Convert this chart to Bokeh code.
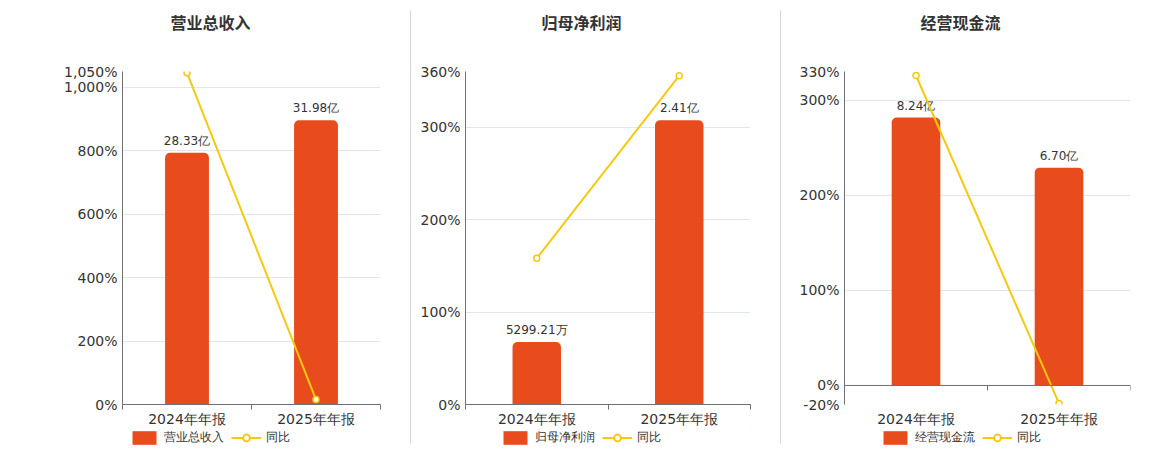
from bokeh.plotting import figure
from bokeh.models import (Range1d, FixedTicker, Legend, LegendItem, Span, Label,
                          ColumnDataSource)
from bokeh.layouts import row, column
from bokeh.embed import file_html
from bokeh.resources import INLINE
from bokeh.core.properties import value

categories = ["2024年年报", "2025年年报"]

rev_values = [28.33, 31.98]
rev_labels = ["28.33亿", "31.98亿"]
rev_yoy = [1046.0, 15.5]
rev_ticks = [0, 200, 400, 600, 800, 1000, 1050]
rev_tick_labels = ["0%", "200%", "400%", "600%", "800%", "1,000%", "1,050%"]

np_values = [0.529921, 2.41]
np_labels = ["5299.21万", "2.41亿"]
np_yoy = [158.0, 355.5]
np_ticks = [0, 100, 200, 300, 360]
np_tick_labels = ["0%", "100%", "200%", "300%", "360%"]

cf_values = [8.24, 6.70]
cf_labels = ["8.24亿", "6.70亿"]
cf_yoy = [325.8, -18.9]
cf_ticks = [-20, 0, 100, 200, 300, 330]
cf_tick_labels = ["-20%", "0%", "100%", "200%", "300%", "330%"]

BAR = "#E84C1C"
LINE = "#F3CA0F"
AXIS = "#6E7079"
GRID = "#E0E6F1"
TEXT = "#333333"
FONT = "DejaVu Sans"
TITLE_H = 62
MAIN_H = 367
LEG_H = 19


def blank_fig(width, height, xr, yr, b_left, b_right):
    f = figure(width=width, height=height, output_backend="svg", toolbar_location=None,
               x_range=Range1d(*xr), y_range=Range1d(*yr),
               x_axis_location=None, y_axis_location=None,
               min_border_left=b_left, min_border_right=b_right,
               min_border_top=0, min_border_bottom=0)
    f.outline_line_color = None
    f.grid.visible = False
    f.background_fill_color = "white"
    f.border_fill_color = "white"
    return f


def make_panel(title, series, values, labels, yoy, ticks, tick_labels,
               width, b_left, b_right, frame_h, title_cx, legend_x):
    ymin, ymax = min(ticks), max(ticks)
    b_top = 9
    b_bottom = MAIN_H - b_top - frame_h

    # title strip (x in pixels from the strip's left edge)
    t = blank_fig(width, TITLE_H, (b_left, width - b_right), (0, TITLE_H), b_left, b_right)
    t.add_layout(Label(x=title_cx, y=TITLE_H - 21.5, text=title, text_align="center",
                       text_baseline="middle", text_font="Noto Sans CJK SC",
                       text_font_size="16px", text_font_style="bold", text_color=TEXT))

    p = figure(width=width, height=MAIN_H, output_backend="svg", toolbar_location=None,
               x_range=Range1d(0, len(categories)), y_range=Range1d(ymin, ymax),
               min_border_left=b_left, min_border_right=b_right,
               min_border_top=b_top, min_border_bottom=b_bottom)
    p.outline_line_color = None
    p.background_fill_color = "white"
    p.border_fill_color = "white"

    bar_end = max(values) * 1.172
    bar_start = bar_end * ymin / ymax
    p.extra_y_ranges = {"bars": Range1d(bar_start, bar_end)}

    xs = [i + 0.5 for i in range(len(categories))]
    src = ColumnDataSource(dict(x=xs, v=values, lab=labels, yoy=yoy))

    p.xgrid.visible = False
    p.ygrid.ticker = FixedTicker(ticks=ticks)
    p.ygrid.grid_line_color = GRID
    p.yaxis.ticker = FixedTicker(ticks=ticks)
    p.yaxis.major_label_overrides = {t_: l for t_, l in zip(ticks, tick_labels)}
    p.yaxis.axis_line_color = AXIS
    p.yaxis.major_tick_line_alpha = 0
    p.yaxis.major_tick_out = 0
    p.yaxis.minor_tick_line_alpha = 0
    p.yaxis.major_label_standoff = 5
    p.yaxis.major_label_text_font = FONT
    p.yaxis.major_label_text_font_size = "14px"
    p.yaxis.major_label_text_color = TEXT

    p.xaxis.ticker = FixedTicker(ticks=xs, minor_ticks=list(range(len(categories) + 1)))
    p.xaxis.major_label_overrides = {x: c for x, c in zip(xs, categories)}
    p.xaxis.major_tick_line_alpha = 0
    p.xaxis.major_tick_out = 0
    p.xaxis.major_tick_in = 0
    p.xaxis.minor_tick_in = 0
    p.xaxis.minor_tick_out = 5
    p.xaxis.minor_tick_line_color = AXIS
    p.xaxis.axis_line_color = AXIS
    p.xaxis.major_label_standoff = 1
    p.xaxis.major_label_text_font = FONT
    p.xaxis.major_label_text_font_size = "14px"
    p.xaxis.major_label_text_color = TEXT

    if ymin < 0:
        p.xaxis.axis_line_alpha = 0
        p.xaxis.minor_tick_line_alpha = 0
        p.add_layout(Span(location=0, dimension="width", line_color=AXIS, line_width=1))
        tick_len = 5 * (ymax - ymin) / frame_h
        bx = list(range(len(categories) + 1))
        p.segment(x0=bx, x1=bx, y0=[0] * len(bx), y1=[-tick_len] * len(bx),
                  line_color=AXIS, line_width=1)

    p.vbar(x="x", top="v", bottom=0, width=0.34, source=src, y_range_name="bars",
           fill_color=BAR, line_color=None, border_radius=(5, 5, 0, 0))
    p.text(x="x", y="v", text="lab", source=src, y_range_name="bars", y_offset=-5,
           text_align="center", text_baseline="bottom", text_font=value(FONT),
           text_font_size="12px", text_color=TEXT)
    p.line(x="x", y="yoy", source=src, line_color=LINE, line_width=2)
    p.scatter(x="x", y="yoy", source=src, marker="circle", size=6,
              fill_color="white", line_color=LINE, line_width=1.5)

    # legend strip (legend glyph samples only; the sample renderers lie outside the view)
    lg = blank_fig(width, LEG_H, (0, 1), (0, 1), b_left, b_right)
    r_bar = lg.vbar(x=[5], top=[5], bottom=4, width=0.3, fill_color=BAR, line_color=None)
    r_line = lg.line(x=[5, 6], y=[5, 5], line_color=LINE, line_width=2)
    r_pts = lg.scatter(x=[5], y=[5], marker="circle", size=8, fill_color="white",
                       line_color=LINE, line_width=2)
    legend = Legend(items=[LegendItem(label=series, renderers=[r_bar]),
                           LegendItem(label="同比", renderers=[r_line, r_pts])],
                    location=(legend_x - b_left, 2.5), orientation="horizontal",
                    glyph_width=30, glyph_height=17, label_standoff=5, spacing=7,
                    padding=0, margin=0, border_line_alpha=0, background_fill_alpha=0,
                    label_text_font=FONT, label_text_font_size="12px",
                    label_text_color=TEXT)
    lg.add_layout(legend)
    return column(t, p, lg, spacing=0)


def separator():
    total = TITLE_H + MAIN_H + LEG_H
    s = figure(width=1, height=total, output_backend="svg",
               toolbar_location=None, x_axis_location=None, y_axis_location=None,
               x_range=Range1d(0, 1), y_range=Range1d(0, 1),
               min_border_left=0, min_border_right=0, min_border_top=10,
               min_border_bottom=total - 443)
    s.outline_line_color = None
    s.grid.visible = False
    s.background_fill_color = "#aaaaaa"
    s.border_fill_color = "white"
    return s


c1 = make_panel("营业总收入", "营业总收入", rev_values, rev_labels, rev_yoy, rev_ticks,
                rev_tick_labels, 410, 122, 30, 334, 210, 129)
c2 = make_panel("归母净利润", "归母净利润", np_values, np_labels, np_yoy, np_ticks,
                np_tick_labels, 369, 54, 30, 334, 170, 89)
c3 = make_panel("经营现金流", "经营现金流", cf_values, cf_labels, cf_yoy, cf_ticks,
                cf_tick_labels, 375, 63, 26, 333, 179, 99)

layout = row(c1, separator(), c2, separator(), c3, spacing=0)
open("out.html", "w").write(file_html(layout, INLINE))
